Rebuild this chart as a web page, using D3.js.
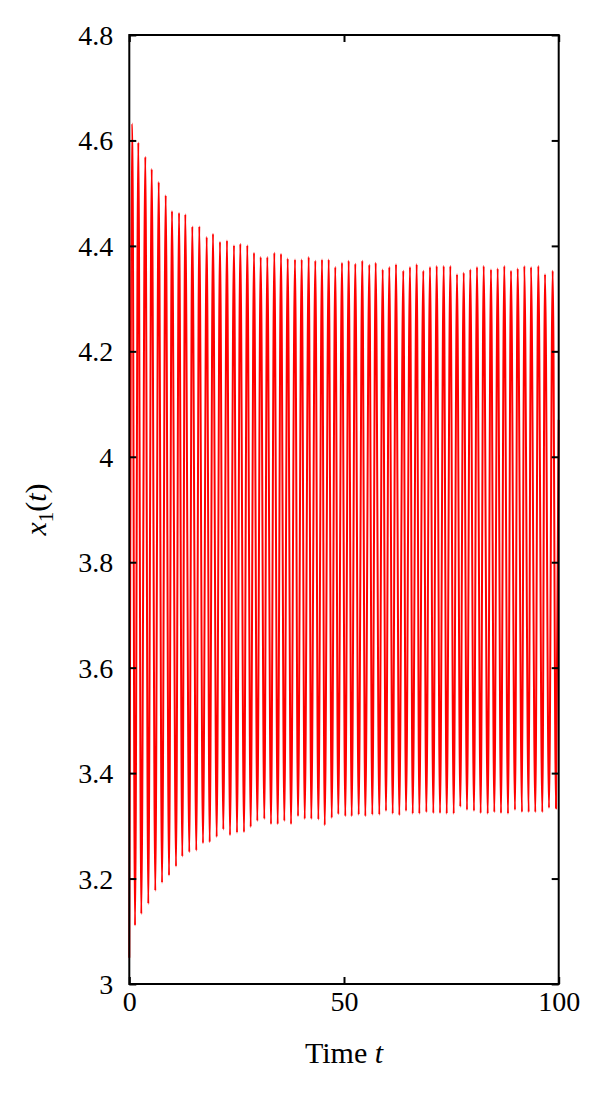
<!DOCTYPE html>
<html>
<head>
<meta charset="utf-8">
<script src="https://cdn.jsdelivr.net/npm/d3@7/dist/d3.min.js"></script>
<style>
  html, body { margin: 0; padding: 0; background: #fff; }
  svg { display: block; }
</style>
</head>
<body>
<svg id="chart" width="600" height="1094"></svg>
<script>
// ---- data ----
const startPoint = [0, 3.05];
const endPoint = [100, 4.07];

const peakTimes = [0.70, 2.10, 3.73, 5.22, 6.85, 8.48, 9.94, 11.58, 13.04, 14.67,
  16.30, 18.03, 19.49, 21.12, 22.75, 24.38, 25.85, 27.48, 29.04, 30.60,
  32.14, 33.77, 35.33, 36.89, 38.59, 40.15, 41.78, 43.32, 44.88, 46.44,
  47.97, 49.53, 51.09, 52.63, 54.26, 55.89, 57.38, 59.01, 60.55, 62.11,
  63.81, 65.37, 66.93, 68.47, 70.03, 71.59, 73.22, 74.76, 76.32, 77.88,
  79.41, 80.97, 82.53, 84.23, 85.79, 87.33, 88.89, 90.45, 91.99, 93.55,
  95.25, 96.81, 98.60];
const peakValues = [4.632, 4.596, 4.569, 4.546, 4.521, 4.496, 4.466, 4.463, 4.460, 4.437,
  4.437, 4.417, 4.423, 4.408, 4.410, 4.401, 4.404, 4.401, 4.387, 4.379,
  4.379, 4.387, 4.385, 4.376, 4.374, 4.374, 4.379, 4.372, 4.374, 4.374,
  4.360, 4.368, 4.372, 4.366, 4.372, 4.364, 4.368, 4.355, 4.360, 4.365,
  4.353, 4.360, 4.365, 4.353, 4.360, 4.362, 4.362, 4.362, 4.346, 4.349,
  4.355, 4.360, 4.362, 4.355, 4.357, 4.362, 4.353, 4.357, 4.362, 4.360,
  4.362, 4.346, 4.353];

const troughTimes = [1.33, 2.79, 4.42, 6.05, 7.62, 9.25, 10.88, 12.34, 13.97, 15.60,
  17.16, 18.72, 20.35, 21.89, 23.45, 25.08, 26.71, 28.27, 29.81, 31.44,
  33.00, 34.56, 36.10, 37.66, 39.29, 40.85, 42.38, 44.02, 45.51, 47.14,
  48.67, 50.30, 51.79, 53.42, 54.96, 56.59, 58.22, 59.78, 61.34, 62.88,
  64.44, 66.00, 67.54, 69.17, 70.80, 72.36, 73.92, 75.55, 77.08, 78.64,
  80.27, 81.83, 83.47, 85.00, 86.56, 88.19, 89.82, 91.45, 93.01, 94.55,
  96.18, 97.74, 99.37];
const troughValues = [3.111, 3.133, 3.152, 3.177, 3.192, 3.206, 3.223, 3.242, 3.250, 3.253,
  3.267, 3.269, 3.279, 3.293, 3.282, 3.287, 3.288, 3.298, 3.309, 3.313,
  3.303, 3.303, 3.309, 3.303, 3.318, 3.313, 3.313, 3.312, 3.301, 3.315,
  3.322, 3.318, 3.318, 3.321, 3.318, 3.321, 3.321, 3.328, 3.323, 3.320,
  3.328, 3.323, 3.323, 3.326, 3.324, 3.324, 3.323, 3.323, 3.336, 3.330,
  3.328, 3.324, 3.323, 3.326, 3.324, 3.323, 3.330, 3.326, 3.326, 3.326,
  3.326, 3.334, 3.333];

const yTicks = [3, 3.2, 3.4, 3.6, 3.8, 4, 4.2, 4.4, 4.6, 4.8];
const xTicks = [0, 50, 100];

// ---- build series ----
const series = [startPoint];
peakTimes.forEach((t, i) => {
  series.push([t, peakValues[i]]);
  series.push([troughTimes[i], troughValues[i]]);
});
series.push(endPoint);

// ---- layout ----
const FONT = "Liberation Serif, DejaVu Serif, serif";
const svg = d3.select("#chart").attr("font-family", FONT);
const L = 129.3, R = 558.7, T = 35, B = 984;
const x = d3.scaleLinear().domain([0, 100]).range([L, R]);
const y = d3.scaleLinear().domain([3, 4.8]).range([B, T]);

// data line
const line = d3.line().x(d => x(d[0])).y(d => y(d[1])).curve(d3.curveMonotoneX);
svg.append("path")
  .datum(series)
  .attr("d", line)
  .attr("fill", "none")
  .attr("stroke", "#ff0000")
  .attr("stroke-width", 2)
  .attr("stroke-linejoin", "round");

// axes (ticks inward on all sides)
const tickLen = 7;
const axisStyle = g => {
  g.attr("font-family", FONT).attr("font-size", 28);
  g.select(".domain").remove();
  g.selectAll(".tick line").attr("stroke", "#000").attr("stroke-width", 2);
  g.selectAll(".tick text").attr("fill", "#000");
};

svg.append("g").attr("transform", `translate(${L},0)`)
  .call(d3.axisLeft(y).tickValues(yTicks).tickFormat(d3.format("~g"))
    .tickSizeInner(-tickLen).tickSizeOuter(0).tickPadding(16))
  .call(axisStyle)
  .call(g => g.selectAll(".tick text").attr("dy", "0.34em"));

svg.append("g").attr("transform", `translate(${R},0)`)
  .call(d3.axisRight(y).tickValues(yTicks).tickFormat("")
    .tickSizeInner(-tickLen).tickSizeOuter(0))
  .call(axisStyle);

svg.append("g").attr("transform", `translate(0,${B})`)
  .call(d3.axisBottom(x).tickValues(xTicks).tickFormat(d3.format("d"))
    .tickSizeInner(-tickLen).tickSizeOuter(0).tickPadding(7))
  .call(axisStyle);

svg.append("g").attr("transform", `translate(0,${T})`)
  .call(d3.axisTop(x).tickValues(xTicks).tickFormat("")
    .tickSizeInner(-tickLen).tickSizeOuter(0))
  .call(axisStyle);

// frame
svg.append("rect")
  .attr("x", L).attr("y", T).attr("width", R - L).attr("height", B - T)
  .attr("fill", "none").attr("stroke", "#000").attr("stroke-width", 2);

// axis titles
const xt = svg.append("text")
  .attr("x", (L + R) / 2).attr("y", 1063)
  .attr("text-anchor", "middle")
  .attr("font-size", 30);
xt.append("tspan").text("Time ");
xt.append("tspan").attr("font-style", "italic").text("t");

const yt = svg.append("text")
  .attr("transform", `translate(46,${(T + B) / 2}) rotate(-90)`)
  .attr("text-anchor", "middle")
  .attr("font-size", 30);
yt.append("tspan").attr("font-style", "italic").text("x");
yt.append("tspan").attr("dy", 7).attr("font-size", 21).text("1");
yt.append("tspan").attr("dy", -7).text("(");
yt.append("tspan").attr("font-style", "italic").text("t");
yt.append("tspan").text(")");
</script>
</body>
</html>
